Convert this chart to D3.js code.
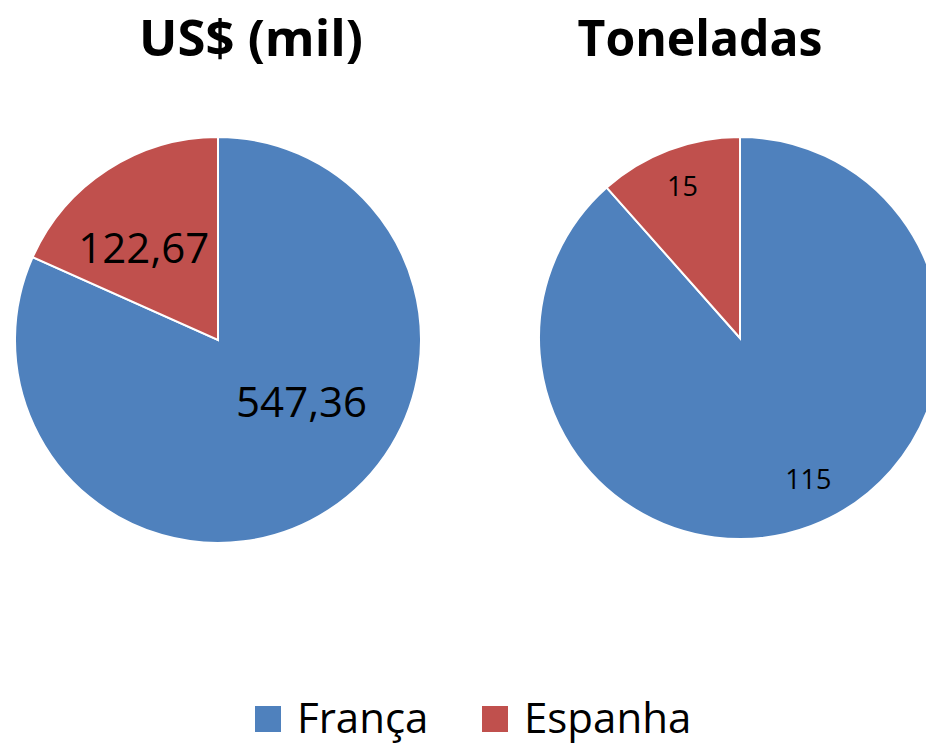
<!DOCTYPE html>
<html>
<head>
<meta charset="utf-8">
<script src="https://cdn.jsdelivr.net/npm/d3@7"></script>
<style>
  body { margin: 0; background: #fff; }
  svg { display: block; font-family: "Open Sans", sans-serif; }
</style>
</head>
<body>
<svg id="chart" width="926" height="745"></svg>
<script>
// data
const countries = ['França', 'Espanha'];
const valuesUsd = [547.36, 122.67];
const valuesTon = [115, 15];
const titles = ['US$ (mil)', 'Toneladas'];
const labelsUsd = ['547,36', '122,67'];
const labelsTon = ['115', '15'];

const colors = d3.scaleOrdinal()
    .domain(countries)
    .range(['#4F81BD', '#C0504D']);

const svg = d3.select('#chart');

// layout of each pie: centre, radius, label font size and label nudges
const pies = [
    { cx: 218, cy: 340, r: 203, titleX: 251, titleW: 224, fontSize: 42,
      values: valuesUsd, labels: labelsUsd,
      labelPos: [[104 / 203, 27, -25], [118 / 203, -10, 7]] },
    { cx: 740, cy: 338, r: 201, titleX: 700, titleW: 245, fontSize: 27,
      values: valuesTon, labels: labelsTon,
      labelPos: [[156 / 201, 13, -5], [162 / 201, 0, 0]] }
];

const pie = d3.pie().sort(null).value(function(d) { return d; });

pies.forEach(function(p, k) {
    svg.append('text')
        .attr('x', p.titleX)
        .attr('y', 56)
        .attr('text-anchor', 'middle')
        .attr('font-size', 51)
        .attr('font-weight', 'bold')
        .attr('fill', '#000')
        .attr('textLength', p.titleW)
        .attr('lengthAdjust', 'spacingAndGlyphs')
        .text(titles[k]);

    let g = svg.append('g')
        .attr('transform', 'translate(' + p.cx + ',' + p.cy + ')');
    let arcs = pie(p.values);
    let arc = d3.arc().innerRadius(0).outerRadius(p.r);

    g.selectAll('path')
        .data(arcs)
        .enter().append('path')
        .attr('d', arc)
        .attr('fill', function(d, i) { return colors(countries[i]); })
        .attr('stroke', '#fff')
        .attr('stroke-width', 2);

    g.selectAll('text')
        .data(arcs)
        .enter().append('text')
        .attr('transform', function(d, i) {
            let lp = p.labelPos[i];
            let rr = p.r * lp[0];
            let c = d3.arc().innerRadius(rr).outerRadius(rr).centroid(d);
            return 'translate(' + (c[0] + lp[1]) + ',' + (c[1] + lp[2]) + ')';
        })
        .attr('text-anchor', 'middle')
        .attr('dy', '0.357em')
        .attr('font-size', p.fontSize)
        .attr('fill', '#000')
        .text(function(d, i) { return p.labels[i]; });
});

// legend
const legendX = d3.scalePoint().domain(countries).range([255, 482]);
let legend = svg.selectAll('g.legend')
    .data(countries)
    .enter().append('g')
    .attr('class', 'legend')
    .attr('transform', function(d) { return 'translate(' + legendX(d) + ',706)'; });
legend.append('rect')
    .attr('width', 26)
    .attr('height', 26)
    .attr('fill', function(d) { return colors(d); });
legend.append('text')
    .attr('x', 42)
    .attr('y', 27)
    .attr('font-size', 42)
    .attr('fill', '#000')
    .text(function(d) { return d; });
</script>
</body>
</html>
